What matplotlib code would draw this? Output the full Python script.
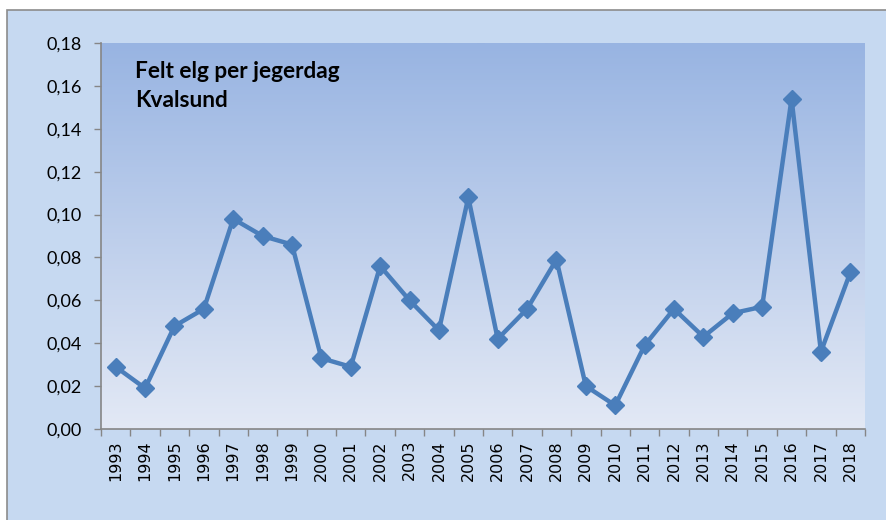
import numpy as np
import matplotlib.pyplot as plt
from matplotlib.patches import Rectangle
from matplotlib.colors import LinearSegmentedColormap

years = [str(y) for y in range(1993, 2019)]
felt_per_dag = [0.029, 0.019, 0.048, 0.056, 0.098, 0.090, 0.086, 0.033, 0.029, 0.076,
                0.060, 0.046, 0.108, 0.042, 0.056, 0.079, 0.020, 0.011, 0.039, 0.056,
                0.043, 0.054, 0.057, 0.154, 0.036, 0.073]
y_ticks = [0.00, 0.02, 0.04, 0.06, 0.08, 0.10, 0.12, 0.14, 0.16, 0.18]

fig = plt.figure(figsize=(8.87, 5.2), dpi=100, facecolor="white")
# chart area background with grey frame
fig.patches.append(Rectangle((7 / 887, -0.05), 1.0, 1 - 10 / 520 + 0.05, transform=fig.transFigure,
                             facecolor="#c6d9f1", edgecolor="#8c8c8c", linewidth=1.2, zorder=-10))

ax = fig.add_axes([101 / 887, 1 - 429 / 520, 764 / 887, 386 / 520])
ax.set_facecolor("none")

grad = LinearSegmentedColormap.from_list("g", ["#e3e9f5", "#98b4e2"])
ax.imshow(np.linspace(0, 1, 256).reshape(-1, 1), cmap=grad, origin="lower", aspect="auto",
          extent=[0, 1, 0, 1], transform=ax.transAxes, zorder=0)

x = np.arange(len(years))
ax.plot(x, felt_per_dag, color="#4a7ebb", linewidth=3.2, marker="D", markersize=9,
        zorder=3, solid_joinstyle="miter")

ax.set_xlim(-0.5, len(years) - 0.5)
ax.set_ylim(0, 0.18)
ax.set_yticks(y_ticks)
ax.set_yticklabels([f"{v:.2f}".replace(".", ",") for v in y_ticks], fontsize=13, family="Lato")
ax.set_xticks(np.arange(-0.5, len(years), 1.0))
ax.set_xticklabels([])
ax.set_xticks(x, minor=True)
ax.set_xticklabels(years, minor=True, rotation=90, fontsize=11.5)
ax.tick_params(axis="x", which="minor", length=0, pad=8)
ax.tick_params(axis="x", which="major", length=5, color="#868686", width=1)
ax.tick_params(axis="y", length=5, color="#868686", width=1, pad=9)

for side in ["top", "right"]:
    ax.spines[side].set_visible(False)
for side in ["left", "bottom"]:
    ax.spines[side].set_color("#868686")
    ax.spines[side].set_linewidth(1.2)

fig.text(135 / 887, 1 - 78 / 520, "Felt elg per jegerdag", fontsize=16.3, fontweight="bold",
         family="Lato", va="baseline", ha="left")
fig.text(135 / 887, 1 - 107 / 520, "Kvalsund", fontsize=16.3, fontweight="bold",
         family="Lato", va="baseline", ha="left")

fig.savefig("out.png", dpi=100, facecolor="white")
